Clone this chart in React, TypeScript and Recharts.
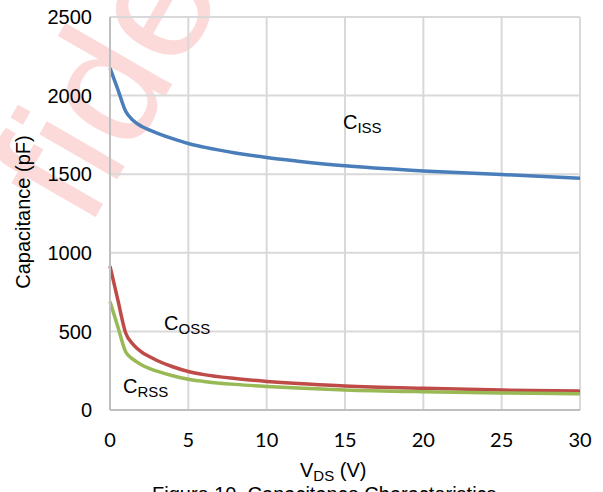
import { LineChart, Line, XAxis, YAxis, CartesianGrid, ReferenceDot } from 'recharts'

const vds = [0, 0.5, 1, 1.5, 2, 2.5, 3, 4, 5, 6, 8, 10, 12, 15, 20, 25, 30]
const ciss = [2175, 2040, 1900, 1840, 1805, 1782, 1762, 1726, 1695, 1672, 1635, 1606, 1583, 1553, 1521, 1498, 1474]
const coss = [915, 700, 490, 415, 370, 340, 315, 275, 245, 225, 200, 182, 168, 153, 138, 127, 120]
const crss = [690, 530, 370, 320, 288, 265, 247, 218, 196, 182, 163, 150, 140, 128, 116, 108, 103]

const xTicks = [0, 5, 10, 15, 20, 25, 30]
const yTicks = [0, 500, 1000, 1500, 2000, 2500]

// where the C_xx names sit, in data units (left edge / baseline)
const capLabels = [
  { sub: 'ISS', x: 14.87, y: 1787 },
  { sub: 'OSS', x: 3.45, y: 509 },
  { sub: 'RSS', x: 0.83, y: 108 },
]

const chartData = vds.map((v, i) => ({ vds: v, ciss: ciss[i], coss: coss[i], crss: crss[i] }))

const arial = 'Liberation Sans, Arial, sans-serif'

const CapLabel = ({ viewBox, sub }: any) => {
  if (!viewBox) return null
  return (
    <text x={viewBox.x} y={viewBox.y} fontFamily={arial} fontSize={20} fill="#000">
      C<tspan fontSize={15} dy={4}>{sub}</tspan>
    </text>
  )
}

const App = () => {
  return (
    <div style={{ position: 'absolute', left: 0, top: 0, width: 603, height: 492, overflow: 'hidden', background: '#fff' }}>
      <svg width={603} height={510} style={{ position: 'absolute', left: 0, top: 0 }}>
        {/* watermark, only the visible part of the word */}
        <text transform="translate(88,230) rotate(-60)" fontFamily={arial} fontSize={170} fill="#fcdada">
          fidential
        </text>
        <text transform="translate(29.5,212) rotate(-90)" textAnchor="middle" fontFamily={arial} fontSize={20} fill="#000">
          Capacitance (pF)
        </text>
        <text x={300} y={477} fontFamily={arial} fontSize={20} fill="#000">
          V<tspan fontSize={15} dy={4}>DS</tspan>
          <tspan dy={-4}> (V)</tspan>
        </text>
        <text x={152} y={501} fontFamily={arial} fontSize={20} fill="#000">
          Figure 10. Capacitance Characteristics
        </text>
      </svg>
      <div style={{ position: 'absolute', left: 0, top: 0 }}>
        <LineChart width={603} height={492} data={chartData} margin={{ top: 17, right: 23, bottom: 42, left: 0 }}>
          <CartesianGrid stroke="#d9d9d9" strokeWidth={2} />
          <XAxis
            dataKey="vds"
            type="number"
            domain={[0, 30]}
            ticks={xTicks}
            interval={0}
            height={40}
            tickLine={false}
            tickSize={0}
            tickMargin={23}
            axisLine={{ stroke: '#bfbfbf', strokeWidth: 2 }}
            tick={{ fill: '#000', fontSize: 20, fontFamily: 'Lato, Carlito, sans-serif' }}
          />
          <YAxis
            type="number"
            domain={[0, 2500]}
            ticks={yTicks}
            interval={0}
            width={110}
            tickLine={false}
            tickSize={0}
            tickMargin={18}
            axisLine={{ stroke: '#bfbfbf', strokeWidth: 2 }}
            tick={{ fill: '#000', fontSize: 20, fontFamily: arial }}
          />
          <Line type="monotone" dataKey="ciss" stroke="#4a7ebb" strokeWidth={3.5} dot={false} isAnimationActive={false} />
          <Line type="monotone" dataKey="coss" stroke="#be4b48" strokeWidth={3.5} dot={false} isAnimationActive={false} />
          <Line type="monotone" dataKey="crss" stroke="#98b954" strokeWidth={3.5} dot={false} isAnimationActive={false} />
          {capLabels.map((l) => (
            <ReferenceDot key={l.sub} x={l.x} y={l.y} r={0} fill="none" stroke="none" label={<CapLabel sub={l.sub} />} />
          ))}
        </LineChart>
      </div>
    </div>
  )
}

export default App
